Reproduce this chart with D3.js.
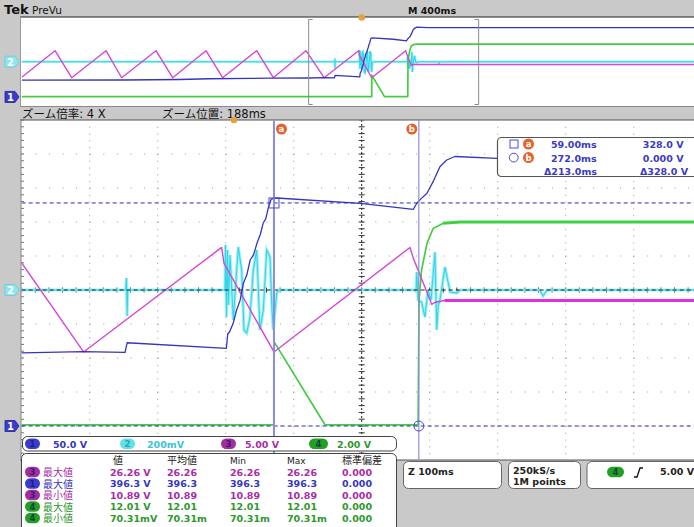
<!DOCTYPE html>
<html><head><meta charset="utf-8">
<script src="https://cdn.jsdelivr.net/npm/d3@7"></script>
<style>
html,body{margin:0;padding:0;background:#c9c9c9;overflow:hidden;}
svg{display:block;}
text{font-family:"DejaVu Sans","Noto Sans CJK JP",sans-serif;}
</style></head><body>
<svg id="c" width="694" height="527"></svg>
<script>
// ---------------- DATA ----------------
// channel settings
const channelIds   = ["1", "2", "3", "4"];
const voltsPerDiv  = [50, 200, 5, 2];          // ch2 in mV
const groundDiv    = [-4, 0, -4, -4];          // ground level, divisions from centre
const scaleLabels  = ["50.0 V", "200mV", "5.00 V", "2.00 V"];
// timebase
const mainTimePerDiv = 100;   // ms/div (zoom)
const zoomPosition   = 188;   // ms
const overviewTimePerDiv = 400; // ms/div
// waveforms: [time ms, value]
const ch1Data = [[-2000,95],[-1400,96],[-1070,99],[-900,103],[-650,105],[-540,107],[-312,107.4],[-222,109.3],[-160,108.4],[-157,122.4],[-11,114.3],[-9,135.3],[-6,139],[-1,151],[4,170.6],[9,184],[14,209.8],[19,222],[24,244.1],[29,252],[34,268.7],[39,282],[43,298.1],[47,305],[51,322.5],[55,333.8],[63,335.3],[186,327.5],[264,318.7],[269,327.5],[275,334],[284,342.2],[293,359.3],[303,381.3],[313,391.2],[325,396.3],[387,393.7],[2000,394]];
const ch2Data = [[-2000,0],[-159,0],[-158,70],[-157,-153],[-156,0],[-13,0],[-12.3,265],[-10.8,-159],[-9.4,235],[-7.9,-88],[-5.7,206],[-0.8,-176],[6.5,253],[11.5,118],[14.9,-235],[18.9,-253],[23.7,-159],[28.6,118],[33.6,235],[38.4,-235],[43.3,-118],[48.3,235],[53.1,196],[56.1,-118],[58,-235],[63,-18],[65,0],[268,0],[269,106],[271,-59],[276,-71],[281,-159],[285.5,0],[290,-59],[295.7,223],[298.3,-235],[300.6,-88],[303.1,-59],[310.5,135],[318,-12],[327.7,-18],[332.6,0],[450,0],[454.6,-35],[460.5,0],[2000,0]];
const ch3Data = [[-2000,11.2],[-1804,26.26],[-1706,10.89],[-1504,26.26],[-1412,10.89],[-1210,26.26],[-1112,10.89],[-916,26.26],[-818,10.89],[-618,26.26],[-520,10.89],[-328,26.26],[-221,10.89],[-18,26.26],[-14.5,23.92],[59,10.89],[259,26.26],[264,24.65],[291,17.89],[296,18.2],[310,18.45],[2000,18.45]];
const ch4Data = [[-2000,0.07],[59,0.07],[59,4.96],[134,0.07],[271,0.07],[272.3,7.4],[276,9.17],[284,10.74],[293,11.62],[308,11.92],[333,12.0],[2000,12.01]];
// cursors
const cursorTimes  = [59.0, 272.0];
const cursorVolts  = [328.0, 0.0];
const cursorNames  = ["a", "b"];
const cursorTimeLabels = ["59.00ms", "272.0ms", "Δ213.0ms"];
const cursorVoltLabels = ["328.0 V", "0.000 V", "Δ328.0 V"];
// measurements
const measHeaders = ["値", "平均値", "Min", "Max", "標準偏差"];
const measChannels = [3, 1, 3, 4, 4];
const measNames = ["最大値", "最大値", "最小値", "最大値", "最小値"];
const measValues = [
  ["26.26 V", "26.26", "26.26", "26.26", "0.000"],
  ["396.3 V", "396.3", "396.3", "396.3", "0.000"],
  ["10.89 V", "10.89", "10.89", "10.89", "0.000"],
  ["12.01 V", "12.01", "12.01", "12.01", "0.000"],
  ["70.31mV", "70.31m", "70.31m", "70.31m", "0.000"]
];
const zoomFactorLabel = "ズーム倍率: 4 X";
const zoomPosLabel = "ズーム位置: 188ms";
const sampleLabels = ["250kS/s", "1M points"];
const triggerLevel = "5.00 V";

// ---------------- STYLE ----------------
const traceColor = ["#3535c0", "#33d6e6", "#d447d4", "#44cc44"];
const pillColor  = ["#3b3bd0", "#5fe0ea", "#a32ca3", "#22a022"];
const textColor  = ["#3636c0", "#3cc4d4", "#a82ca8", "#2e982e"];
const ORANGE = "#e4622c";
const CURSOR = "#8c8ce0";

const svg = d3.select("#c");
const W = 694, H = 527;
svg.append("rect").attr("width", W).attr("height", H).attr("fill", "#c9c9c9");

// ---------------- SCALES ----------------
const GL = 21.7, GR = 701.7;
const xMain = d3.scaleLinear().domain([zoomPosition - 5*mainTimePerDiv, zoomPosition + 5*mainTimePerDiv]).range([GL, GR]);
const yMain = d3.scaleLinear().domain([-5, 5]).range([460, 120]);
const xOv = d3.scaleLinear().domain([-5*overviewTimePerDiv, 5*overviewTimePerDiv]).range([GL, GR]);
const yOv = d3.scaleLinear().domain([-5, 5]).range([105.7, 17.7]);
const toDiv = (ci, v) => v / voltsPerDiv[ci] + groundDiv[ci];

// ---------------- TOP BAR ----------------
svg.append("text").attr("x", 4).attr("y", 14).attr("font-size", 13).attr("font-weight", "bold").attr("fill", "#111").text("Tek");
svg.append("text").attr("x", 32).attr("y", 13.5).attr("font-size", 10.5).attr("fill", "#111").text("PreVu");
svg.append("text").attr("x", 408).attr("y", 13.5).attr("font-size", 9.5).attr("font-weight", "bold").attr("fill", "#111").text("M " + overviewTimePerDiv + "ms");

// overview window
svg.append("rect").attr("x", 20.5).attr("y", 17).attr("width", W - 20.5).attr("height", 89.5).attr("fill", "#fff");
svg.append("line").attr("x1", 20).attr("x2", W).attr("y1", 17).attr("y2", 17).attr("stroke", "#222").attr("stroke-width", 1);
svg.append("line").attr("x1", 20).attr("x2", W).attr("y1", 106.5).attr("y2", 106.5).attr("stroke", "#888").attr("stroke-width", 1);
svg.append("line").attr("x1", 20.5).attr("x2", 20.5).attr("y1", 17).attr("y2", 107).attr("stroke", "#999");

const defs = svg.append("defs");
defs.append("clipPath").attr("id", "clipOv").append("rect").attr("x", GL).attr("y", 17.5).attr("width", W - GL).attr("height", 88.5);
defs.append("clipPath").attr("id", "clipMain").append("rect").attr("x", GL).attr("y", 120.5).attr("width", W - GL).attr("height", 339);

function drawTraces(g, xs, ys, main) {
  const order = [1, 3, 2, 0];
  order.forEach(ci => {
    const data = [ch1Data, ch2Data, ch3Data, ch4Data][ci];
    const line = d3.line().x(d => xs(d[0])).y(d => ys(toDiv(ci, d[1])));
    if (ci === 1) {
      g.append("path").attr("d", line(data)).attr("fill", "none").attr("stroke", "#9ff0f6").attr("stroke-width", main ? 3.2 : 2.6);
      g.append("path").attr("d", line(data)).attr("fill", "none").attr("stroke", traceColor[1]).attr("stroke-width", 1.1);
      return;
    }
    g.append("path").attr("d", line(data)).attr("fill", "none").attr("stroke", traceColor[ci])
      .attr("stroke-width", ci === 0 ? 1.3 : (ci === 3 ? 1.7 : 1.4)).attr("stroke-linejoin", "round");
    if (main && (ci === 2 || ci === 3)) {
      g.append("path").attr("d", line(data.filter(d => d[0] >= 300))).attr("fill", "none")
        .attr("stroke", ci === 2 ? "#e030e0" : "#3fd23f").attr("stroke-width", 3);
    }
  });
}

// overview traces
const gOv = svg.append("g").attr("clip-path", "url(#clipOv)");
drawTraces(gOv, xOv, yOv, false);
// zoom brackets
[xOv(xMain.domain()[0]), xOv(xMain.domain()[1])].forEach((bx, i) => {
  const dir = i === 0 ? 1 : -1;
  svg.append("path").attr("d", `M${bx + dir*4},19.5 H${bx} V104.5 H${bx + dir*4}`)
    .attr("fill", "none").attr("stroke", "#8a8a8a").attr("stroke-width", 1);
});
// trigger marker overview
svg.append("circle").attr("cx", xOv(0)).attr("cy", 17.5).attr("r", 3.3).attr("fill", "#e6a23a");

// channel markers
function chMarker(x, y, ci) {
  const g = svg.append("g");
  g.append("path").attr("d", `M${x},${y-5.5} H${x+10} L${x+14},${y} L${x+10},${y+5.5} H${x} Z`)
    .attr("fill", ci === 1 ? "#8fe6ee" : pillColor[ci]).attr("stroke", ci === 1 ? "#5ccfdc" : "#22228a").attr("stroke-width", 0.8);
  g.append("text").attr("x", x + 5.5).attr("y", y + 3.8).attr("text-anchor", "middle").attr("font-size", 10).attr("font-weight", "bold")
    .attr("fill", "#fff").text(channelIds[ci]);
}
chMarker(5, yOv(groundDiv[1]), 1);
chMarker(5, yOv(groundDiv[0]), 0);

// ---------------- ZOOM BAR ----------------
svg.append("text").attr("x", 22).attr("y", 117.5).attr("font-size", 11.5).attr("fill", "#111").text(zoomFactorLabel);
svg.append("text").attr("x", 162).attr("y", 117.5).attr("font-size", 11.5).attr("fill", "#111").text(zoomPosLabel);

// ---------------- MAIN GRATICULE ----------------
svg.append("rect").attr("x", 21).attr("y", 120).attr("width", W - 21).attr("height", 340).attr("fill", "#fff");
svg.append("line").attr("x1", 20).attr("x2", W).attr("y1", 120).attr("y2", 120).attr("stroke", "#555");
svg.append("line").attr("x1", 20).attr("x2", W).attr("y1", 460).attr("y2", 460).attr("stroke", "#555");
svg.append("line").attr("x1", 21).attr("x2", 21).attr("y1", 120).attr("y2", 460).attr("stroke", "#888");

const grid = svg.append("g").attr("clip-path", "url(#clipMain)");
const vTimes = d3.range(xMain.domain()[0] + mainTimePerDiv, xMain.domain()[1], mainTimePerDiv);
vTimes.forEach(t => {
  grid.append("line").attr("x1", xMain(t)).attr("x2", xMain(t)).attr("y1", 120).attr("y2", 460)
    .attr("stroke", "#9a9a9a").attr("stroke-width", 1).attr("stroke-dasharray", "1,5.8");
});
d3.range(-4, 5).forEach(dv => {
  grid.append("line").attr("x1", GL).attr("x2", GR).attr("y1", yMain(dv)).attr("y2", yMain(dv))
    .attr("stroke", "#9a9a9a").attr("stroke-width", 1).attr("stroke-dasharray", "1,12.6");
});
// centre cross with ticks
const cx = xMain(zoomPosition), cy = yMain(0);
grid.append("line").attr("x1", cx).attr("x2", cx).attr("y1", 120).attr("y2", 460).attr("stroke", "#222").attr("stroke-dasharray", "2,2");
d3.range(120, 461, 6.8).forEach(y => grid.append("line").attr("x1", cx - 3).attr("x2", cx + 3).attr("y1", y).attr("y2", y).attr("stroke", "#333"));
d3.range(GL, GR, 13.6).forEach(x => grid.append("line").attr("x1", x).attr("x2", x).attr("y1", cy - 2.5).attr("y2", cy + 2.5).attr("stroke", "#333"));
// left border ticks
d3.range(120, 461, 6.8).forEach(y => svg.append("line").attr("x1", 21).attr("x2", 24).attr("y1", y).attr("y2", y).attr("stroke", "#777"));

// ---------------- MAIN TRACES ----------------
const gMain = svg.append("g").attr("clip-path", "url(#clipMain)");
drawTraces(gMain, xMain, yMain, true);
// centre horizontal dashed line over traces
gMain.append("line").attr("x1", GL).attr("x2", GR).attr("y1", cy).attr("y2", cy).attr("stroke", "#222").attr("stroke-dasharray", "4,3");

// cursors
cursorVolts.forEach(v => {
  gMain.append("line").attr("x1", GL).attr("x2", GR).attr("y1", yMain(toDiv(0, v))).attr("y2", yMain(toDiv(0, v)))
    .attr("stroke", "#2f2fa8").attr("stroke-width", 1).attr("stroke-dasharray", "4,3");
});
cursorTimes.forEach((t, i) => {
  gMain.append("line").attr("x1", xMain(t)).attr("x2", xMain(t)).attr("y1", 120).attr("y2", 460)
    .attr("stroke", CURSOR).attr("stroke-width", i === 0 ? 2 : 1.2);
});
gMain.append("rect").attr("x", xMain(cursorTimes[0]) - 5).attr("y", yMain(toDiv(0, cursorVolts[0])) - 5).attr("width", 10).attr("height", 10)
  .attr("fill", "none").attr("stroke", "#4a4ad0").attr("stroke-width", 1);
gMain.append("circle").attr("cx", xMain(cursorTimes[1])).attr("cy", yMain(toDiv(0, cursorVolts[1]))).attr("r", 5)
  .attr("fill", "none").attr("stroke", "#4a4ad0").attr("stroke-width", 1);

function orangeTag(x, y, s) {
  svg.append("circle").attr("cx", x).attr("cy", y).attr("r", 5.5).attr("fill", ORANGE);
  svg.append("text").attr("x", x).attr("y", y + 3).attr("text-anchor", "middle").attr("font-size", 8.5).attr("font-weight", "bold").attr("fill", "#fff").text(s);
}
orangeTag(xMain(cursorTimes[0]) + 7.5, 129, cursorNames[0]);
orangeTag(xMain(cursorTimes[1]) - 7, 129, cursorNames[1]);
// trigger marker main
svg.append("circle").attr("cx", xMain(0)).attr("cy", 120).attr("r", 3.3).attr("fill", "#e6a23a");

// channel markers main
chMarker(5, yMain(groundDiv[1]), 1);
chMarker(5, yMain(groundDiv[0]), 0);

// cursor readout box
svg.append("rect").attr("x", 497.5).attr("y", 137.5).attr("width", 210).attr("height", 39).attr("rx", 4)
  .attr("fill", "#fff").attr("stroke", "#555").attr("stroke-width", 1.2);
svg.append("rect").attr("x", 510).attr("y", 140).attr("width", 8).attr("height", 8).attr("fill", "none").attr("stroke", "#4a4ad0");
svg.append("circle").attr("cx", 513.8).attr("cy", 157.6).attr("r", 4.4).attr("fill", "none").attr("stroke", "#4a4ad0");
orangeTag(528.5, 144, cursorNames[0]);
orangeTag(528.5, 157.6, cursorNames[1]);
const rb = [148, 161.5, 174.5];
cursorTimeLabels.forEach((s, i) => {
  svg.append("text").attr("x", i < 2 ? 551 : 544).attr("y", rb[i]).attr("font-size", 9.5).attr("font-weight", "bold").attr("fill", "#3a3ac4").text(s);
});
cursorVoltLabels.forEach((s, i) => {
  svg.append("text").attr("x", i < 2 ? 683.5 : 688).attr("y", rb[i]).attr("text-anchor", "end").attr("font-size", 9.5).attr("font-weight", "bold").attr("fill", "#3a3ac4").text(s);
});

// ---------------- BOTTOM PANELS ----------------
function pill(x, y, ci, w) {
  svg.append("rect").attr("x", x).attr("y", y - 5.2).attr("width", w || 15).attr("height", 10.4).attr("rx", 5.2).attr("fill", pillColor[ci]);
  svg.append("text").attr("x", x + (w || 15) / 2).attr("y", y + 3.3).attr("text-anchor", "middle").attr("font-size", 8.5).attr("font-weight", "bold")
    .attr("fill", ci === 1 ? "#1d8d98" : "#111a55").attr("fill-opacity", 0.75).text(channelIds[ci]);
}
// channel bar
svg.append("rect").attr("x", 22.5).attr("y", 436.5).attr("width", 374).attr("height", 14.5).attr("rx", 5)
  .attr("fill", "#fff").attr("stroke", "#444").attr("stroke-width", 1);
const chX = [25, 120, 221, 309];
const chTX = [53, 147, 245, 337];
channelIds.forEach((c, ci) => {
  pill(chX[ci], 443.7, ci, ci === 3 ? 19 : 15);
  svg.append("text").attr("x", chTX[ci]).attr("y", 447.5).attr("font-size", 9.5).attr("font-weight", "bold").attr("fill", textColor[ci]).text(scaleLabels[ci]);
});
// measurement table
svg.append("rect").attr("x", 21.5).attr("y", 453.5).attr("width", 375).attr("height", 80).attr("rx", 5)
  .attr("fill", "#fff").attr("stroke", "#444").attr("stroke-width", 1);
const colX = [110, 167, 230, 287, 342];
measHeaders.forEach((h, i) => {
  svg.append("text").attr("x", colX[i] + (i === 0 ? 3 : 0)).attr("y", 463.5).attr("font-size", i === 2 || i === 3 ? 9 : 10)
    .attr("fill", "#222").text(h);
});
const rowY = [472, 483.5, 495, 506.5, 518];
measChannels.forEach((ch, r) => {
  const ci = ch - 1;
  pill(25, rowY[r], ci, 15);
  svg.append("text").attr("x", 43).attr("y", rowY[r] + 4).attr("font-size", 10).attr("fill", textColor[ci]).text(measNames[r]);
  measValues[r].forEach((v, k) => {
    svg.append("text").attr("x", colX[k]).attr("y", rowY[r] + 3.8).attr("font-size", 9.5).attr("font-weight", "bold").attr("fill", textColor[ci]).text(v);
  });
});
// right boxes
function box(x, w) {
  svg.append("rect").attr("x", x).attr("y", 461.5).attr("width", w).attr("height", 27).attr("rx", 5)
    .attr("fill", "#fff").attr("stroke", "#666").attr("stroke-width", 1);
}
box(403.5, 98); box(508.5, 72); box(587, 120);
svg.append("text").attr("x", 408).attr("y", 474.5).attr("font-size", 9.5).attr("font-weight", "bold").attr("fill", "#222")
  .text("Z " + mainTimePerDiv + "ms");
sampleLabels.forEach((s, i) => {
  svg.append("text").attr("x", 513).attr("y", 474 + i * 11).attr("font-size", 9.5).attr("font-weight", "bold").attr("fill", "#222").text(s);
});
pill(607, 472, 3, 17);
svg.append("path").attr("d", "M634,477 H637 L640,468 H643").attr("fill", "none").attr("stroke", "#111").attr("stroke-width", 1.3);
svg.append("text").attr("x", 660).attr("y", 475).attr("font-size", 9.5).attr("font-weight", "bold").attr("fill", "#222").text(triggerLevel);
</script>
</body></html>
